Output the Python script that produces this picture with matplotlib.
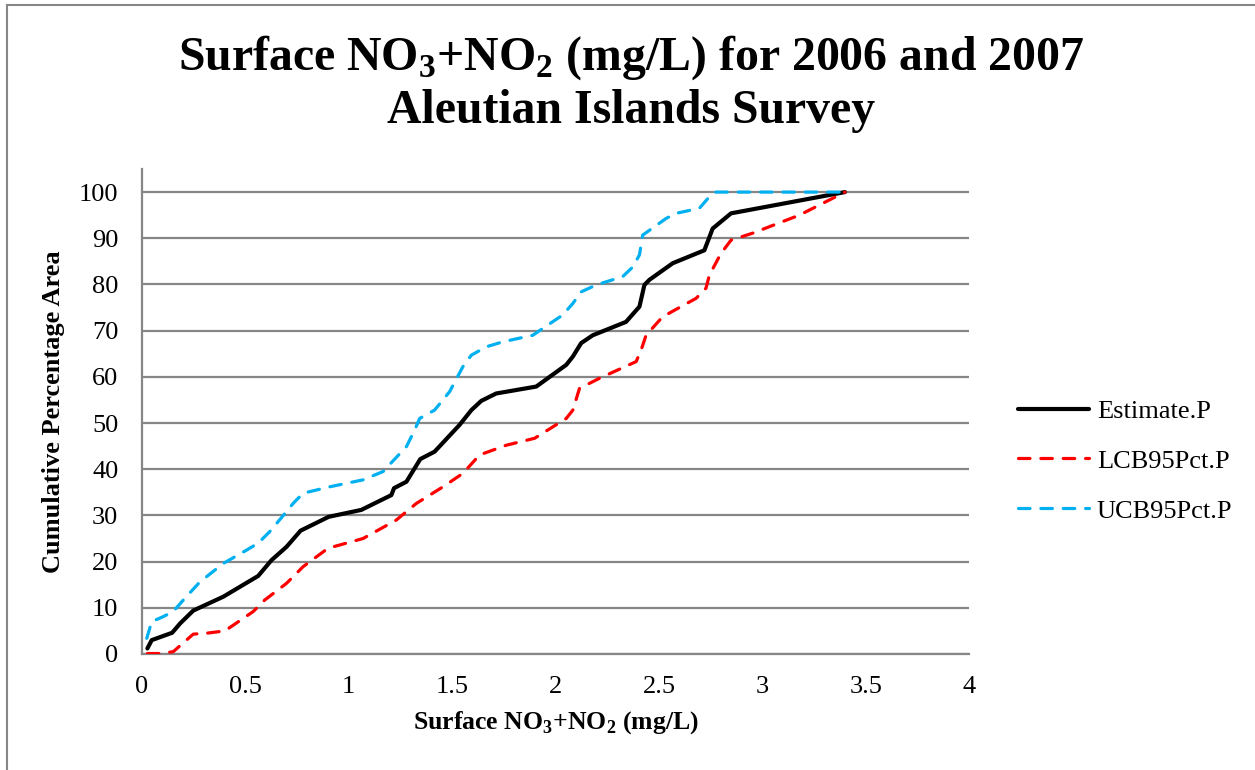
import matplotlib
matplotlib.use("Agg")
import matplotlib.pyplot as plt
from matplotlib.lines import Line2D

# Cumulative percentage area vs surface NO3+NO2 (mg/L)
est_x = [0.026, 0.047, 0.146, 0.184, 0.248, 0.393, 0.562, 0.626, 0.699, 0.767,
         0.903, 1.061, 1.206, 1.219, 1.279, 1.346, 1.415, 1.536, 1.593, 1.641,
         1.713, 1.907, 2.052, 2.084, 2.124, 2.180, 2.341, 2.406, 2.430, 2.454,
         2.567, 2.720, 2.760, 2.849, 3.40]
est_y = [1.2, 3.0, 4.6, 6.6, 9.4, 12.4, 16.9, 20.3, 23.2, 26.7,
         29.7, 31.2, 34.4, 35.9, 37.3, 42.2, 43.8, 49.6, 52.8, 54.8,
         56.4, 57.9, 62.6, 64.4, 67.3, 69.0, 71.9, 75.2, 79.9, 81.0,
         84.6, 87.4, 92.1, 95.4, 100]

lcb_x = [0.026, 0.087, 0.151, 0.248, 0.312, 0.401, 0.538, 0.594, 0.699, 0.779,
         0.900, 1.069, 1.230, 1.327, 1.456, 1.552, 1.633, 1.762, 1.899, 2.052,
         2.084, 2.116, 2.213, 2.390, 2.414, 2.438, 2.518, 2.680, 2.728, 2.744,
         2.800, 2.849, 2.953, 3.179, 3.40]
lcb_y = [0.1, 0.1, 0.5, 4.3, 4.5, 5.0, 9.2, 11.7, 15.3, 18.9,
         22.9, 25.0, 29.0, 32.6, 36.2, 39.1, 43.1, 45.2, 46.7, 51.0,
         52.8, 57.5, 59.7, 63.3, 65.8, 69.0, 73.0, 77.0, 79.2, 82.0,
         86.7, 89.6, 91.1, 95.0, 100]

ucb_x = [0.023, 0.047, 0.103, 0.151, 0.208, 0.280, 0.393, 0.506, 0.562, 0.618,
         0.691, 0.731, 0.779, 0.908, 1.069, 1.166, 1.279, 1.319, 1.343, 1.415,
         1.488, 1.552, 1.593, 1.665, 1.746, 1.890, 1.939, 2.035, 2.084, 2.124,
         2.197, 2.325, 2.374, 2.406, 2.422, 2.535, 2.583, 2.696, 2.752, 2.776,
         3.40]
ucb_y = [3.4, 7.0, 8.1, 9.2, 12.1, 15.6, 19.6, 22.5, 24.0, 26.5,
         30.4, 32.6, 34.8, 36.2, 37.7, 39.5, 44.9, 48.5, 51.0, 52.8,
         56.8, 62.2, 64.7, 66.5, 67.6, 69.0, 70.5, 73.4, 75.9, 78.4,
         79.9, 81.7, 83.8, 86.4, 90.7, 94.3, 95.4, 96.5, 99.4, 100,
         100]

x_ticks = [0, 0.5, 1, 1.5, 2, 2.5, 3, 3.5, 4]
x_ticklabels = ["0", "0.5", "1", "1.5", "2", "2.5", "3", "3.5", "4"]
y_ticks = list(range(0, 101, 10))

plt.rcParams["font.family"] = "Liberation Serif"
plt.rcParams["mathtext.fontset"] = "custom"
plt.rcParams["mathtext.rm"] = "Liberation Serif"
plt.rcParams["mathtext.bf"] = "Liberation Serif:bold"

grey = "#868686"
W, H = 1255, 770
fig = plt.figure(figsize=(W / 100, H / 100), dpi=100)
ax = fig.add_axes([142 / W, 1 - 654 / H, (969 - 142) / W, (654 - 169) / H])

ax.plot(est_x, est_y, color="black", lw=3.0, solid_joinstyle="round",
        solid_capstyle="round", label="Estimate.P", zorder=3)
ax.plot(lcb_x, lcb_y, color="#FF0000", lw=2.3, dashes=(3.6, 3.4),
        dash_capstyle="round", label="LCB95Pct.P", zorder=3)
ax.plot(ucb_x, ucb_y, color="#00B0F0", lw=2.3, dashes=(3.6, 3.4),
        dash_capstyle="round", label="UCB95Pct.P", zorder=3)

ax.set_xlim(0, 4)
ax.set_ylim(0, 105)
ax.set_xticks(x_ticks)
ax.set_xticklabels(x_ticklabels)
ax.set_yticks(y_ticks)
ax.grid(axis="y", color=grey, lw=1.6)
ax.set_axisbelow(True)
ax.tick_params(axis="both", length=0, labelsize=19)
ax.tick_params(axis="x", pad=16)
ax.tick_params(axis="y", pad=17)
for side in ["top", "right"]:
    ax.spines[side].set_visible(False)
for side in ["left", "bottom"]:
    ax.spines[side].set_color(grey)
    ax.spines[side].set_linewidth(1.6)

ax.set_xlabel(r"Surface NO$_\mathbf{3}$+NO$_\mathbf{2}$ (mg/L)",
              fontsize=18.5, fontweight="bold", labelpad=8)
ax.set_ylabel("Cumulative Percentage Area", fontsize=19, fontweight="bold",
              labelpad=10)

fig.text(0.503, 1 - 83 / H,
         "Surface NO$_\\mathbf{3}$+NO$_\\mathbf{2}$ (mg/L) for 2006 and 2007\n"
         "Aleutian Islands Survey",
         ha="center", va="center", fontsize=34.4, fontweight="bold",
         linespacing=1.2)

ax.legend(loc="center left", bbox_to_anchor=(1.030, 0.398), frameon=False,
          fontsize=19, handlelength=2.7, handletextpad=0.3, labelspacing=1.0)

# outer chart border (left and top edges)
fig.add_artist(Line2D([7 / W, 7 / W], [0, 1 - 5 / H], color=grey, lw=1.5,
                      transform=fig.transFigure))
fig.add_artist(Line2D([7 / W, 1], [1 - 5 / H, 1 - 5 / H], color=grey, lw=1.5,
                      transform=fig.transFigure))

fig.savefig("out.png", dpi=100)
